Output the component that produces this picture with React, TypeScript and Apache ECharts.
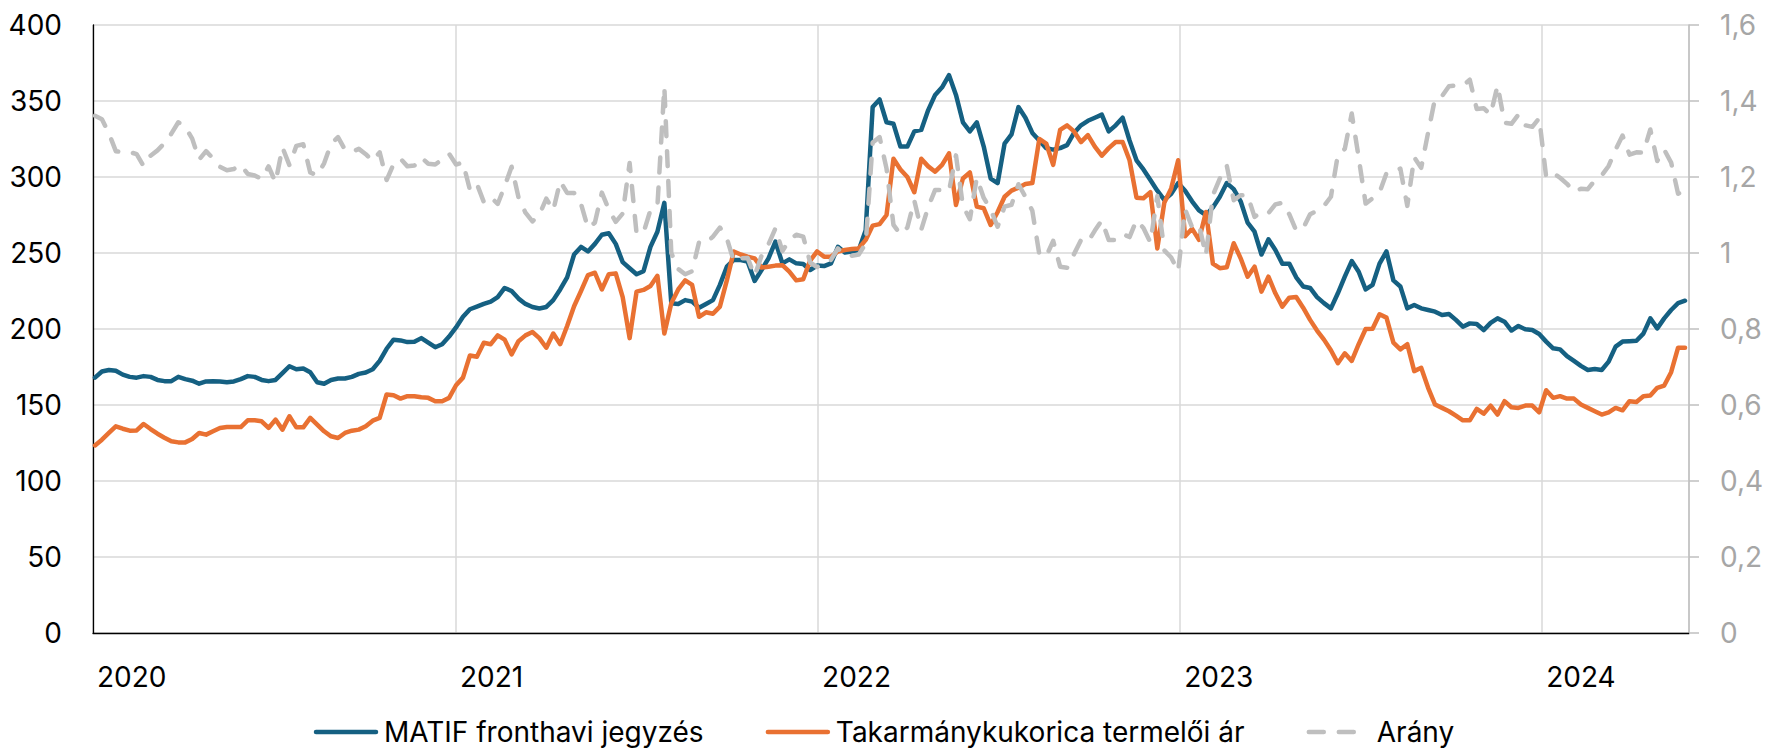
import React, { useEffect, useRef } from 'react';
import * as echarts from 'echarts';

const FONT = 'Inter, "Noto Sans", sans-serif';
const START_DATE = [2020, 0, 3]; // first weekly observation
const AXIS_MIN = [2020, 0, 1];
const AXIS_MAX = [2024, 4, 28];

const seriesNames = ['MATIF fronthavi jegyzés', 'Takarmánykukorica termelői ár', 'Arány'];
const seriesColors = ['#156082', '#E97132', '#BFBFBF'];

const matif = [
  168, 172, 173, 172.5, 170, 168.5, 168, 169, 168.5, 166.5,
  165.7, 165.7, 168.5, 167, 166, 164, 165.5, 165.7, 165.5, 165,
  165.5, 167, 169, 168.5, 166.5, 165.7, 166.5, 171, 175.5, 173.5,
  174, 171.5, 165, 164, 166.5, 167.4, 167.4, 168.5, 170.5, 171.4,
  173.5, 179, 187, 193, 192.5, 191.4, 191.6, 194, 191, 188,
  190, 195, 201, 208, 213, 214.7, 216.5, 218, 221, 227,
  225, 220, 216.5, 214.5, 213.5, 214.5, 219, 226, 234, 249,
  254, 251, 256, 262, 263, 256, 244, 240, 236, 238,
  254, 264, 283, 217, 216.5, 219, 218, 214, 216.5, 219,
  229, 241, 245.4, 245.4, 244.3, 231.6, 238.8, 246.5, 257.5, 243.2,
  245.8, 243.2, 242.8, 238.8, 241.7, 241.4, 243.2, 254.1, 250.4, 250.9,
  252, 265, 346, 351, 336, 335, 320, 320, 330, 331,
  344, 354, 359, 367, 354, 336, 330, 336, 320, 299,
  296, 322, 328, 346, 339, 329, 324, 319, 318, 319,
  321, 329, 334, 337, 339, 341, 330, 334, 339, 324,
  311, 305, 298, 291, 285, 289, 296, 291, 284, 278,
  275, 280, 287, 296, 292, 284, 270, 264, 249, 259,
  252, 243, 243, 234, 228, 227, 221, 217, 213.6, 223.5,
  234.4, 244.7, 237.7, 226, 229, 243, 251, 232, 228, 213.6,
  215.8, 213.6, 212.5, 211.4, 209.2, 209.9, 206, 201.5, 203.7, 203.3,
  199.3, 204, 207, 204.8, 199, 202, 199.8, 199.3, 196.7, 191.7,
  187.3, 186.6, 182.2, 179, 175.7, 173, 173.7, 173, 178.5, 188.4,
  191.7, 192, 192.3, 197, 207, 200.4, 207, 212.5, 217, 218.6,
];

const takarmany = [
  123.4, 127.2, 131.6, 136, 134.4, 133.1, 133.3, 137.5, 134.2, 131.1,
  128.5, 126.1, 125.4, 125.4, 127.6, 131.6, 130.5, 132.7, 134.9, 135.5,
  135.5, 135.5, 139.9, 139.9, 139.3, 134.9, 140.4, 133.8, 142.6, 135.3,
  135.3, 141.5, 137.1, 132.7, 129.4, 128.3, 131.6, 133.1, 133.8, 136,
  139.7, 141.5, 156.9, 156.4, 154.2, 155.8, 155.8, 155.1, 154.7, 152.5,
  152.5, 154.7, 163, 168, 182.6, 181.7, 191, 190, 195.8, 193,
  183.3, 192, 195.8, 198, 194, 187.7, 197, 190, 202, 215,
  225, 235.5, 237, 226, 236, 236.6, 221, 194, 224.6, 225.7,
  228.3, 235, 197, 217, 226, 232, 229, 208, 211, 210,
  214.7, 232, 251, 249, 247.6, 246.5, 240.4, 241, 241.7, 242,
  237.7, 232, 232.7, 245, 251, 247.6, 247.6, 251, 252, 252.6,
  253, 258.6, 268, 269, 275, 312, 305, 300, 290, 312,
  307, 303.5, 308, 315.6, 281.6, 299, 303, 280.5, 279.4, 268.4,
  277, 287, 291, 293, 295.4, 296, 325, 322, 308, 331,
  334, 330, 323, 327.6, 320, 314, 319, 323, 323, 311,
  286.4, 286, 290, 253, 283, 292.5, 311, 261, 266, 258.6,
  277, 243, 240, 240.6, 256.4, 246.5, 234.4, 241, 224.6, 234.4,
  223.5, 214.7, 220.6, 221, 214, 206, 199, 193, 186, 177.5,
  184, 179, 190, 200, 200.2, 209.7, 207.5, 191, 186.6, 190,
  172.3, 174.5, 161.3, 150.3, 148.1, 145.9, 143, 139.9, 139.9, 147.4,
  144.3, 149.6, 143.7, 152.5, 148.5, 148.1, 149.6, 149.6, 145.2, 159.7,
  154.7, 155.8, 154.2, 154.2, 150.3, 148.1, 145.9, 143.7, 145.2, 148.1,
  146.5, 152.5, 152, 155.8, 156.2, 161.3, 162.8, 171.6, 187.7, 187.7,
];

const arany = [
  1.361, 1.352, 1.315, 1.268, 1.265, 1.266, 1.26, 1.229, 1.256, 1.27,
  1.289, 1.314, 1.344, 1.332, 1.301, 1.246, 1.268, 1.249, 1.227, 1.218,
  1.221, 1.232, 1.208, 1.204, 1.195, 1.228, 1.186, 1.278, 1.231, 1.282,
  1.286, 1.212, 1.204, 1.236, 1.287, 1.305, 1.272, 1.266, 1.274, 1.26,
  1.242, 1.265, 1.192, 1.234, 1.248, 1.228, 1.23, 1.251, 1.235, 1.233,
  1.246, 1.261, 1.233, 1.238, 1.166, 1.182, 1.134, 1.147, 1.129, 1.176,
  1.227, 1.146, 1.106, 1.083, 1.101, 1.143, 1.112, 1.189, 1.158, 1.158,
  1.129, 1.066, 1.08, 1.159, 1.114, 1.082, 1.104, 1.237, 1.051, 1.054,
  1.113, 1.123, 1.437, 1.0, 0.958, 0.944, 0.952, 1.029, 1.026, 1.043,
  1.067, 1.039, 0.978, 0.986, 0.987, 0.94, 0.993, 1.023, 1.065, 1.005,
  1.034, 1.048, 1.043, 0.975, 0.963, 0.975, 0.982, 1.012, 0.994, 0.993,
  0.996, 1.025, 1.291, 1.305, 1.222, 1.074, 1.049, 1.067, 1.138, 1.061,
  1.121, 1.166, 1.166, 1.163, 1.257, 1.124, 1.089, 1.198, 1.145, 1.114,
  1.069, 1.122, 1.127, 1.181, 1.148, 1.111, 0.997, 0.991, 1.032, 0.964,
  0.961, 0.997, 1.034, 1.029, 1.059, 1.086, 1.034, 1.034, 1.05, 1.042,
  1.086, 1.066, 1.028, 1.15, 1.007, 0.988, 0.952, 1.115, 1.068, 1.075,
  0.993, 1.152, 1.196, 1.23, 1.139, 1.152, 1.152, 1.095, 1.109, 1.105,
  1.128, 1.132, 1.102, 1.059, 1.065, 1.102, 1.111, 1.124, 1.148, 1.259,
  1.274, 1.367, 1.251, 1.13, 1.144, 1.159, 1.21, 1.215, 1.222, 1.124,
  1.252, 1.224, 1.317, 1.407, 1.413, 1.439, 1.441, 1.44, 1.456, 1.379,
  1.381, 1.364, 1.441, 1.343, 1.34, 1.364, 1.336, 1.332, 1.355, 1.2,
  1.211, 1.198, 1.182, 1.161, 1.169, 1.168, 1.191, 1.204, 1.229, 1.272,
  1.309, 1.259, 1.265, 1.264, 1.325, 1.242, 1.272, 1.238, 1.156, 1.165,
];

const weekDates = matif.map((_, i) =>
  new Date(START_DATE[0], START_DATE[1], START_DATE[2] + 7 * i).getTime()
);

const YEAR_MS = 365 * 24 * 3600 * 1000;

export default function App() {
  const ref = useRef<HTMLDivElement>(null);

  useEffect(() => {
    document.body.style.margin = '0';
    if (!ref.current) return;
    const chart = echarts.init(ref.current, undefined, { renderer: 'svg' });
    const label = { fontFamily: FONT, fontSize: 28 };
    chart.setOption({
      animation: false,
      backgroundColor: '#ffffff',
      textStyle: { fontFamily: FONT },
      grid: { left: 93, right: 79, top: 25, bottom: 119, containLabel: false },
      legend: {
        data: seriesNames,
        left: 'center',
        top: 713,
        itemWidth: 60,
        itemHeight: 14,
        itemGap: 62,
        itemStyle: { opacity: 0 },
        lineStyle: { width: 4.5, cap: 'round' },
        textStyle: { ...label, lineHeight: 28, color: '#000000', padding: [0, 0, 0, 3] },
      },
      xAxis: {
        type: 'time',
        min: new Date(AXIS_MIN[0], AXIS_MIN[1], AXIS_MIN[2]).getTime(),
        max: new Date(AXIS_MAX[0], AXIS_MAX[1], AXIS_MAX[2]).getTime(),
        minInterval: YEAR_MS,
        maxInterval: YEAR_MS * 1.01,
        axisLine: { lineStyle: { color: '#000000', width: 1.3 } },
        axisTick: { show: false },
        axisLabel: {
          ...label,
          color: '#000000',
          formatter: '{yyyy}',
          align: 'left',
          padding: [0, 0, 0, 4],
          margin: 30,
          hideOverlap: false,
        },
        splitLine: { show: true, lineStyle: { color: '#D9D9D9', width: 1.5 } },
      },
      yAxis: [
        {
          type: 'value',
          min: 0,
          max: 400,
          interval: 50,
          axisLine: { show: true, lineStyle: { color: '#000000', width: 1.3 } },
          axisTick: { show: false },
          axisLabel: { ...label, color: '#000000', margin: 31 },
          splitLine: { show: true, lineStyle: { color: '#D9D9D9', width: 1.5 } },
        },
        {
          type: 'value',
          min: 0,
          max: 1.6,
          interval: 0.2,
          position: 'right',
          axisLine: { show: true, lineStyle: { color: '#BFBFBF', width: 1.5 } },
          axisTick: { show: true, length: 10, lineStyle: { color: '#BFBFBF', width: 1.5 } },
          axisLabel: {
            ...label,
            color: '#A6A6A6',
            margin: 31,
            formatter: (v: number) => String(Math.round(v * 10) / 10).replace('.', ','),
          },
          splitLine: { show: false },
        },
      ],
      series: [
        {
          name: seriesNames[0],
          type: 'line',
          yAxisIndex: 0,
          data: weekDates.map((d, i) => [d, matif[i]]),
          symbol: 'none',
          color: seriesColors[0],
          lineStyle: { color: seriesColors[0], width: 4.5, cap: 'round', join: 'round' },
          z: 2,
        },
        {
          name: seriesNames[1],
          type: 'line',
          yAxisIndex: 0,
          data: weekDates.map((d, i) => [d, takarmany[i]]),
          symbol: 'none',
          color: seriesColors[1],
          lineStyle: { color: seriesColors[1], width: 4.5, cap: 'round', join: 'round' },
          z: 3,
        },
        {
          name: seriesNames[2],
          type: 'line',
          yAxisIndex: 1,
          data: weekDates.map((d, i) => [d, arany[i]]),
          symbol: 'none',
          color: seriesColors[2],
          lineStyle: { color: seriesColors[2], width: 4.5, type: [15, 15], cap: 'round', join: 'round' },
          z: 4,
        },
      ],
    });
    return () => chart.dispose();
  }, []);

  return <div ref={ref} style={{ width: 1768, height: 752 }} />;
}
